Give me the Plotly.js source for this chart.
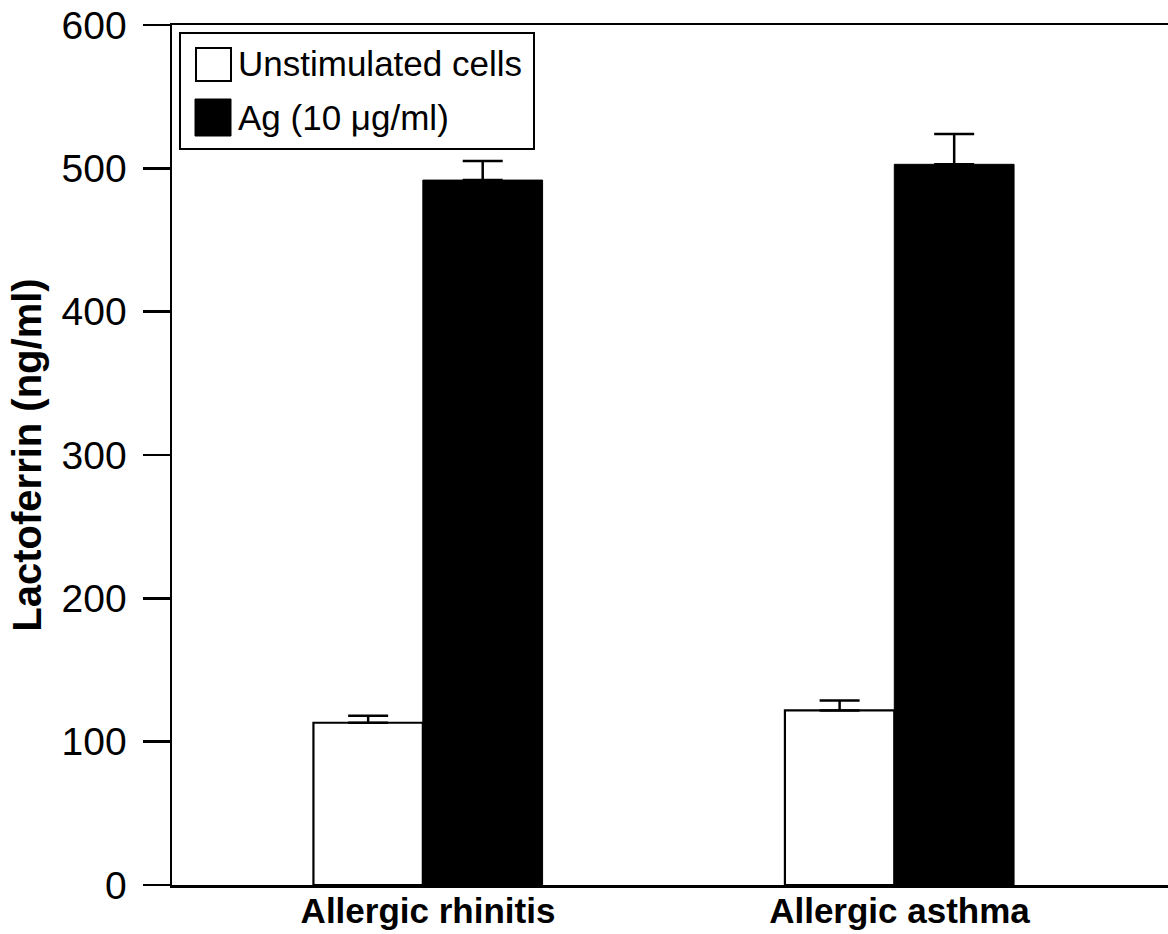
<!DOCTYPE html>
<html>
<head>
<meta charset="utf-8">
<script src="https://cdn.plot.ly/plotly-3.0.1.min.js"></script>
<style>html,body{margin:0;padding:0;background:#fff;}#chart{width:1168px;height:934px;}</style>
</head>
<body>
<div id="chart"></div>
<script>
// ---- data ----
var categories = ["Allergic rhinitis", "Allergic asthma"];
var seriesNames = ["Unstimulated cells", "Ag (10 \u03bcg/ml)"];
var unstimulated = [113.2, 121.8];
var unstimulatedErr = [4.8, 7.0];
var antigen = [491.8, 502.8];
var antigenErr = [13.3, 21.1];
var noLowerErr = [0, 0];
var yTicks = [0, 100, 200, 300, 400, 500, 600];
var yTitle = "Lactoferrin (ng/ml)";

var FONT = "Liberation Sans, Arial, Helvetica, sans-serif";

var traces = [
  {
    type: "bar", x: categories, y: unstimulated, name: seriesNames[0],
    width: 0.232, offset: -0.243,
    marker: {color: "#ffffff", line: {color: "#000000", width: 2.2}},
    error_y: {type: "data", array: unstimulatedErr, arrayminus: noLowerErr, symmetric: false,
              color: "#000000", thickness: 2.5, width: 20},
    showlegend: false, hoverinfo: "x+y"
  },
  {
    type: "bar", x: categories, y: antigen, name: seriesNames[1],
    width: 0.254, offset: -0.011,
    marker: {color: "#000000", line: {color: "#000000", width: 1}},
    error_y: {type: "data", array: antigenErr, arrayminus: noLowerErr, symmetric: false,
              color: "#000000", thickness: 2.5, width: 20},
    showlegend: false, hoverinfo: "x+y"
  }
];

function px2x(p) { return (p - 172) / 996; }
function px2y(p) { return (885 - p) / 860; }

var shapes = [
  {type: "rect", xref: "paper", yref: "paper", x0: px2x(180), x1: px2x(534), y0: px2y(149), y1: px2y(33),
   line: {color: "#000", width: 2}, fillcolor: "rgba(0,0,0,0)"},
  {type: "rect", xref: "paper", yref: "paper", x0: px2x(196), x1: px2x(231), y0: px2y(81), y1: px2y(48),
   line: {color: "#000", width: 2}, fillcolor: "#ffffff"},
  {type: "rect", xref: "paper", yref: "paper", x0: px2x(195), x1: px2x(231), y0: px2y(136), y1: px2y(99),
   line: {color: "#000", width: 1}, fillcolor: "#000000"}
];

var annotations = [
  {xref: "paper", yref: "paper", x: px2x(236), y: px2y(64), xanchor: "left", yanchor: "middle",
   text: seriesNames[0], showarrow: false, font: {family: FONT, size: 35, color: "#000"}},
  {xref: "paper", yref: "paper", x: px2x(236), y: px2y(117), xanchor: "left", yanchor: "middle",
   text: seriesNames[1], showarrow: false, font: {family: FONT, size: 35, color: "#000"}}
];

var layout = {
  width: 1168, height: 934,
  margin: {l: 172, r: 0, t: 25, b: 49, pad: 0},
  paper_bgcolor: "#ffffff", plot_bgcolor: "#ffffff",
  barmode: "overlay",
  showlegend: false,
  font: {family: FONT, color: "#000"},
  xaxis: {
    type: "category", range: [-0.543, 1.5695],
    showline: true, linecolor: "#000", linewidth: 2.5, mirror: true,
    ticks: "", showgrid: false, zeroline: false,
    tickfont: {family: FONT, size: 35, color: "#000", weight: "bold"},
    ticklabelstandoff: -7,
    automargin: false
  },
  yaxis: {
    range: [0, 600], tickvals: yTicks, ticktext: yTicks.map(String),
    showline: true, linecolor: "#000", linewidth: 2.5, mirror: false,
    ticks: "outside", ticklen: 27, tickwidth: 2.5, tickcolor: "#000",
    showgrid: false, zeroline: false,
    tickfont: {family: FONT, size: 39, color: "#000"},
    ticklabelstandoff: 8,
    title: {text: yTitle, font: {family: FONT, size: 40, color: "#000", weight: "bold"}, standoff: 8},
    automargin: false
  },
  shapes: shapes,
  annotations: annotations
};

Plotly.newPlot("chart", traces, layout, {displayModeBar: false, staticPlot: true});
</script>
</body>
</html>
